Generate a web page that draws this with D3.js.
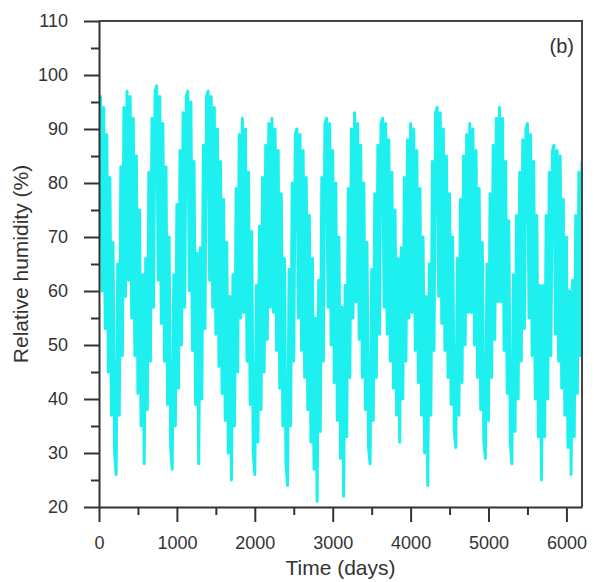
<!DOCTYPE html>
<html>
<head>
<meta charset="utf-8">
<script src="https://cdn.jsdelivr.net/npm/d3@7"></script>
<style>
  body { margin: 0; background: #fff; }
  svg text { font-family: "Liberation Sans", Arial, sans-serif; fill: #333; }
</style>
</head>
<body>
<div id="container"></div>
<script>
// relative humidity (%), one value every 20 days from day 0
var stepDays = 20;
var rh = [
  70,96,60,94,53,89,45,81,37,69,
  30,26,65,37,83,48,94,59,97,62,
  96,55,92,48,85,41,75,35,63,28,
  66,38,82,47,92,57,97,98,62,96,
  54,91,47,83,39,70,31,27,63,35,
  76,42,86,50,93,57,96,97,60,95,
  49,84,39,67,28,68,40,87,53,96,
  97,62,96,57,94,52,90,46,84,41,
  77,36,69,30,59,25,63,35,79,45,
  89,55,92,56,90,47,82,39,71,30,
  26,61,32,72,38,81,45,87,51,91,
  57,92,56,90,49,86,42,78,35,66,
  28,24,64,35,80,47,89,90,55,89,
  49,86,44,81,38,74,32,66,27,55,
  21,62,34,81,47,91,92,57,91,50,
  86,43,80,36,70,29,57,22,61,33,
  79,44,90,55,93,58,91,51,87,44,
  80,38,69,31,28,64,36,78,44,87,
  52,91,92,57,91,52,88,47,82,42,
  75,37,66,32,68,40,81,47,88,55,
  91,56,90,49,86,43,79,37,70,30,
  59,24,65,37,84,49,93,94,59,93,
  54,90,49,85,44,78,39,70,34,31,
  66,37,77,43,85,50,89,56,91,56,
  90,50,86,44,79,38,69,32,29,65,
  36,78,44,87,51,92,58,94,58,92,
  49,84,41,73,32,28,63,34,74,40,
  82,47,88,53,90,91,55,89,48,84,
  40,74,33,61,25,61,33,74,40,82,
  48,86,87,52,86,47,85,42,77,37,
  70,31,60,26,62,33,74,41,82,48,
  84
];

var xTicks = [0, 1000, 2000, 3000, 4000, 5000, 6000];
var xMinor = [500, 1500, 2500, 3500, 4500, 5500];
var yTicks = [20, 30, 40, 50, 60, 70, 80, 90, 100, 110];
var yMinor = [25, 35, 45, 55, 65, 75, 85, 95, 105];

var w = 594, h = 582;
var plotLeft = 99, plotRight = 582, plotTop = 21, plotBottom = 507;

var svg = d3.select("div#container")
  .append("svg")
  .attr("width", w)
  .attr("height", h)
  .attr("viewBox", `0 0 ${w} ${h}`);

svg.append("rect")
  .attr("width", w)
  .attr("height", h)
  .attr("fill", "#fff");

var x = d3.scaleLinear().domain([0, 6200]).range([plotLeft, plotRight]);
var y = d3.scaleLinear().domain([20, 110]).range([plotBottom, plotTop]);

svg.append("clipPath")
  .attr("id", "plot")
  .append("rect")
  .attr("x", plotLeft)
  .attr("y", plotTop)
  .attr("width", plotRight - plotLeft)
  .attr("height", plotBottom - plotTop);

var line = d3.line()
  .x(function(d, i) { return x(i * stepDays); })
  .y(function(d) { return y(d); });

// daily series drawn thick so the dense oscillation reads as a band
svg.append("path")
  .datum(rh)
  .attr("clip-path", "url(#plot)")
  .attr("fill", "none")
  .attr("stroke", "#1ef0f0")
  .attr("stroke-width", 3)
  .attr("stroke-linejoin", "round")
  .attr("d", line);

// frame (top and right)
svg.append("path")
  .attr("d", `M${plotLeft},${plotTop}H${plotRight}V${plotBottom}`)
  .attr("fill", "none")
  .attr("stroke", "#444")
  .attr("stroke-width", 2);

// minor ticks
svg.append("g")
  .attr("transform", `translate(${plotLeft},0)`)
  .call(d3.axisLeft(y).tickValues(yMinor).tickSize(8).tickFormat(""))
  .call(function(g) { g.select(".domain").remove(); });

svg.append("g")
  .attr("transform", `translate(0,${plotBottom})`)
  .call(d3.axisBottom(x).tickValues(xMinor).tickSize(8).tickFormat(""))
  .call(function(g) { g.select(".domain").remove(); });

// major axes
svg.append("g")
  .attr("transform", `translate(${plotLeft},0)`)
  .call(d3.axisLeft(y).tickValues(yTicks).tickFormat(d3.format("d"))
    .tickSize(15).tickPadding(16).tickSizeOuter(0));

svg.append("g")
  .attr("transform", `translate(0,${plotBottom})`)
  .call(d3.axisBottom(x).tickValues(xTicks).tickFormat(d3.format("d"))
    .tickSize(15).tickPadding(14).tickSizeOuter(0));

svg.selectAll(".tick line").attr("stroke", "#333").attr("stroke-width", 2);
svg.selectAll(".domain").attr("stroke", "#333").attr("stroke-width", 2);
svg.selectAll(".tick text")
  .attr("font-family", "Liberation Sans, Arial, sans-serif")
  .attr("font-size", 18)
  .attr("fill", "#333");

// axis titles
svg.append("text")
  .attr("transform", `translate(28,${(plotTop + plotBottom) / 2}) rotate(-90)`)
  .attr("text-anchor", "middle")
  .attr("font-size", 21)
  .text("Relative humidity (%)");

svg.append("text")
  .attr("x", (plotLeft + plotRight) / 2)
  .attr("y", 575)
  .attr("text-anchor", "middle")
  .attr("font-size", 21)
  .text("Time (days)");

svg.append("text")
  .attr("x", 574)
  .attr("y", 53)
  .attr("text-anchor", "end")
  .attr("font-size", 20)
  .text("(b)");
</script>
</body>
</html>
